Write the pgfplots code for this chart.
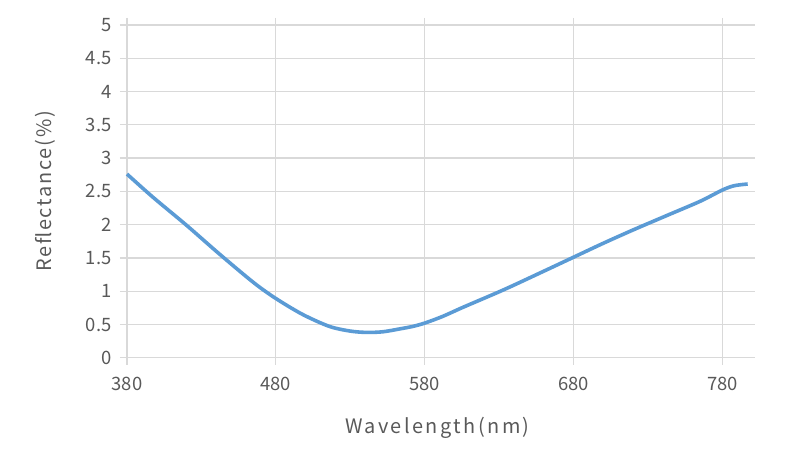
\documentclass[border=0pt]{standalone}
\usepackage{pgfplots}
\pgfplotsset{compat=1.18}
\usepackage{fontspec}
\setmainfont{Noto Sans CJK SC}
\definecolor{gridc}{HTML}{D9D9D9}
\definecolor{linec}{HTML}{5B9BD5}
\definecolor{textc}{HTML}{595959}
\begin{document}
\begin{tikzpicture}
\useasboundingbox (-127bp,-97.3bp) rectangle (673bp,357.7bp);
\begin{axis}[
  at={(0,0)}, anchor=south west,
  scale only axis, width=620.7bp, height=332.7bp,
  xmin=380, xmax=797, ymin=0, ymax=5,
  xtick={380,480,580,680,780},
  ytick={0,0.5,...,5},
  yticklabels={0,0.5,1,1.5,2,2.5,3,3.5,4,4.5,5},
  grid=major,
  grid style={draw=gridc, line width=1.3bp},
  axis line style={draw=none},
  tick style={draw=gridc, line width=1.3bp},
  tick align=outside,
  major tick length=7bp,
  /pgf/number format/assume math mode=true,
  ticklabel style={font=\fontsize{18.5}{22}\selectfont, text=textc},
  xticklabel style={yshift=-9bp},
  yticklabel style={xshift=-5bp},
  xlabel={\addfontfeatures{LetterSpace=12}Wavelength(nm)},
  ylabel={\addfontfeatures{LetterSpace=9}Reflectance(\%)},
  label style={font=\fontsize{20}{24}\selectfont, text=textc},
  xlabel style={yshift=-20bp},
  ylabel style={yshift=24bp},
  clip=false,
]
\addplot[color=linec, line width=3.6bp, smooth, tension=0.5] coordinates {
(380,2.76) (397,2.42) (420,1.99) (442,1.56) (465,1.13) (480,0.89)
(498,0.65) (516,0.47) (530,0.40) (541,0.38) (552,0.39) (565,0.44)
(572,0.47) (580,0.52) (592,0.62) (606,0.76) (633,1.02) (660,1.30)
(680,1.51) (700,1.72) (720,1.92) (743,2.14) (765,2.35) (780,2.52)
(788,2.585) (797,2.61)
};
\end{axis}
\end{tikzpicture}
\end{document}
